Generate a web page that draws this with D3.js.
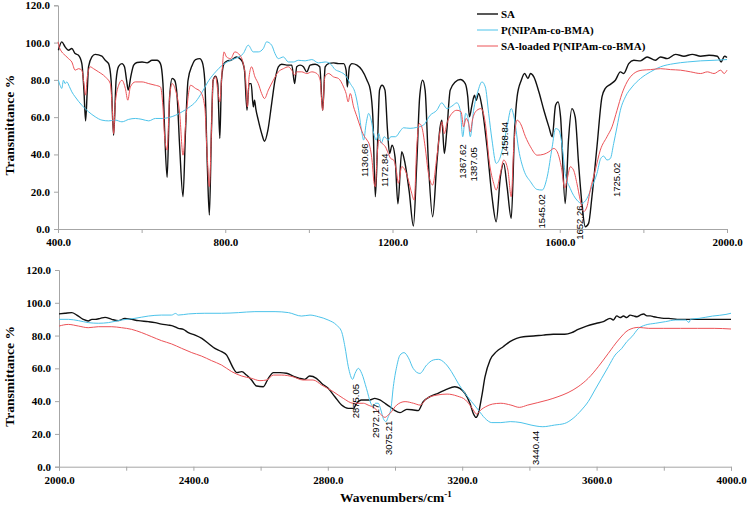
<!DOCTYPE html>
<html><head><meta charset="utf-8">
<script src="https://cdn.jsdelivr.net/npm/d3@7"></script>
<style>
html,body{margin:0;padding:0;background:#fff;}
svg{display:block;}
</style></head>
<body>
<svg id="chart" width="748" height="509"></svg>
<script>
// ---------- data ----------
const seriesNames = ["SA", "P(NIPAm-co-BMA)", "SA-loaded P(NIPAm-co-BMA)"];
const seriesColors = ["#111111", "#4cc3ea", "#ec5257"];

const topXTicks = [400, 800, 1200, 1600, 2000];
const bottomXTicks = [2000, 2400, 2800, 3200, 3600, 4000];
const yTicks = [0, 20, 40, 60, 80, 100, 120];

// top panel (400-2000 cm-1): [wavenumber, transmittance %]
const saTop = [[401,95.9],[409,100.4],[417,97.7],[425,95.9],[433,96.8],[441,94.1],[449,93.2],[457,88.7],[462,74.5],[466,58.0],[470,74.5],[473,87],[481,92.3],[489,93.7],[505,92.7],[513,90.5],[521,88.7],[527,79.8],[533,50.3],[539,79.8],[545,87.3],[553,88.7],[559,87],[564,79.8],[568,74.5],[574,81.6],[581,87.9],[589,89.3],[601,89.6],[613,89.1],[625,90.5],[637,90.5],[645,88.7],[651,78],[655,53],[661,27.7],[667,70.9],[673,80.7],[679,79.8],[685,70.9],[691,44.1],[699,17.3],[705,53],[711,79.8],[721,87.9],[729,90.9],[739,91.4],[745,89.6],[751,79.8],[757,35.2],[762,7.5],[767,53],[771,79.8],[777,82],[782,78],[787,48.6],[791,79.8],[797,88.7],[805,90.2],[813,90.5],[827,92.3],[839,90.5],[846,85.2],[852,63.7],[857,78],[862,78],[867,65.5],[870,69.1],[873,64.6],[879,58.4],[887,51.3],[894,47.1],[902,53],[911,67.3],[919,79.8],[927,87],[935,88.4],[947,87.9],[959,87.9],[966,78],[971,87],[979,87.9],[987,87],[995,84.3],[1003,87.9],[1015,88.4],[1026,87],[1033,63.7],[1039,87],[1047,88.7],[1059,89.1],[1071,88.7],[1083,88.7],[1089,85.2],[1092,76.2],[1097,87],[1103,88.7],[1115,87.9],[1127,85.2],[1139,79.8],[1147,74.5],[1153,60],[1159,17.3],[1164,44],[1169,74.5],[1175,77.1],[1182,74.5],[1188,53],[1193,40.5],[1199,45],[1206,38.7],[1213,13.5],[1222,41.4],[1230,35.2],[1240,20],[1250,1.6],[1258,35.2],[1265,70.9],[1272,79.8],[1278,74.5],[1286,35.2],[1296,6.6],[1306,35.2],[1314,54.8],[1318,58.4],[1324,40.5],[1330,53],[1338,74.5],[1350,78.9],[1362,80.2],[1374,78],[1380,70.9],[1384,60.2],[1390,66.4],[1396,71.8],[1400,69.1],[1406,72.7],[1414,65.5],[1426,44.1],[1438,17.3],[1448,3.9],[1458,28],[1466,35.2],[1474,22.7],[1484,5.7],[1492,53],[1498,70.9],[1508,79.8],[1516,83.4],[1524,80.7],[1530,83.4],[1538,81.6],[1550,73.6],[1562,63.7],[1574,54.8],[1582,49.5],[1590,66.4],[1596,68.2],[1602,60],[1613,13.7],[1621,48],[1629,64.6],[1637,60],[1645,35.2],[1653,13.7],[1661,1.2],[1669,3],[1677,17.3],[1689,44.1],[1701,70.9],[1709,75.4],[1721,77.6],[1733,79.8],[1745,84.3],[1753,83.4],[1765,88.7],[1777,90.5],[1793,90.2],[1809,92.3],[1829,90.5],[1841,92.3],[1857,91.4],[1877,93.7],[1897,92.7],[1917,93.7],[1937,92.7],[1957,93.2],[1977,92.7],[1986,89.6],[1994,92.7],[2000,92]];

const pTop = [[401,79.8],[405,77],[409,75.4],[413,79.8],[417,78],[421,78.9],[427,76.5],[433,73.6],[441,70.9],[457,66.4],[473,62.9],[489,60.2],[505,58.4],[521,58],[537,58.4],[553,57.5],[569,58.8],[585,59.3],[601,58.8],[617,58],[633,59.3],[649,59.3],[665,59.8],[681,61],[697,62.9],[713,65.2],[729,68.2],[745,73.6],[761,79.8],[777,84.3],[793,87.9],[813,90.5],[823,91.4],[843,94.1],[855,98.6],[867,95],[879,95],[891,96.8],[899,100.4],[911,98.6],[919,94.1],[927,91.4],[939,92.3],[951,89.6],[963,89.6],[975,90.5],[991,90.2],[1007,90.9],[1023,89.1],[1039,89.6],[1051,88.7],[1063,85.5],[1075,84.3],[1087,82.5],[1099,78],[1111,72.7],[1119,63.7],[1127,51.3],[1131,47.7],[1137,56.6],[1143,62],[1149,58.4],[1155,51.3],[1161,47.7],[1167,51.3],[1173,46],[1180,49.5],[1190,47.7],[1196,49.5],[1207,49.5],[1220,53],[1226,54.3],[1242,54],[1258,54.5],[1274,55.7],[1290,61],[1306,63.7],[1318,67.7],[1330,64.6],[1342,65.9],[1354,67.7],[1362,63.7],[1368,49.5],[1375,62],[1380,60.2],[1386,49.5],[1394,63.7],[1404,73.6],[1414,78.9],[1422,76.2],[1430,62],[1438,47.7],[1448,35.2],[1458,38.7],[1466,45.9],[1474,54.8],[1484,64.6],[1492,58.4],[1502,42.3],[1514,31.6],[1530,25.4],[1546,21.2],[1558,20.9],[1570,28],[1582,44.1],[1590,53.9],[1598,53],[1606,44.1],[1613,29.8],[1625,21.8],[1641,15.5],[1653,13.7],[1665,16.4],[1677,22.7],[1689,29.8],[1698,37.8],[1705,39.1],[1713,37],[1721,37.8],[1729,45.9],[1737,54.8],[1745,63.7],[1757,70.9],[1773,76.2],[1793,80.7],[1817,84.3],[1841,87],[1873,88.7],[1905,89.6],[1937,90.2],[1969,90.5],[2000,90.9]];

const loadedTop = [[400,100.4],[403,97.7],[409,95],[417,93.2],[425,91.4],[433,89.6],[441,85.2],[449,86],[457,85.2],[462,78],[466,71.8],[470,81.6],[477,87],[485,86],[497,84.3],[513,81.6],[525,78],[530,63.7],[533,51.2],[537,67.3],[545,77.1],[553,79.8],[561,75.4],[567,69.1],[573,76.2],[585,78.9],[601,78.9],[617,78],[633,77.1],[645,76.2],[651,65.5],[655,49.5],[661,42.3],[667,70.9],[673,78],[681,74.5],[691,62],[699,39.6],[707,62],[717,77.1],[729,75.4],[741,73.6],[751,65.5],[757,38.7],[762,22.7],[767,53],[771,79.8],[777,81.6],[782,74.5],[787,68.2],[791,79.8],[797,95],[803,92.3],[813,91.4],[823,95],[835,93.2],[843,88.7],[849,79.8],[853,65.5],[857,81.6],[863,87],[871,81.6],[879,78],[887,72.7],[894,70],[903,74.5],[915,79.8],[927,84.3],[939,86],[951,87],[959,85.2],[966,82.5],[971,84.3],[983,84.3],[995,83.4],[1007,84.3],[1019,83.4],[1027,79.8],[1033,63.7],[1038,81.6],[1047,83.4],[1059,81.6],[1071,80.7],[1083,76.2],[1089,72.7],[1094,68.2],[1099,72.7],[1107,65.5],[1115,60.2],[1123,54.8],[1131,50.3],[1139,47.7],[1145,45],[1151,37],[1156,24.5],[1159,22.7],[1163,38.7],[1167,47.7],[1175,45.9],[1183,44.1],[1190,40.5],[1195,38],[1203,36.9],[1209,31.6],[1214,24.5],[1222,33.4],[1230,31.6],[1238,26.2],[1246,19.1],[1252,15.5],[1258,44.1],[1264,56.6],[1270,54.8],[1278,44.1],[1286,29.8],[1296,23.6],[1306,38.7],[1314,53],[1318,57.5],[1324,51.2],[1330,56.6],[1342,62],[1354,63.7],[1364,62.9],[1370,54.8],[1376,59.3],[1382,56.6],[1386,52.1],[1392,59.3],[1402,63.7],[1412,64.6],[1422,56.6],[1432,35.2],[1442,24.5],[1448,20.9],[1458,29.8],[1466,37],[1476,31.6],[1484,17.3],[1490,44.1],[1498,58.4],[1506,56.6],[1518,49.5],[1530,44.1],[1546,39.6],[1562,40.1],[1574,41.4],[1586,43.2],[1594,41.4],[1604,33],[1612,22],[1619,28],[1625,33.4],[1633,31.6],[1641,24.5],[1649,15.5],[1657,9.3],[1665,11.9],[1673,20.9],[1685,31.6],[1697,42.3],[1713,49.5],[1725,54.8],[1737,63.7],[1749,72.7],[1761,78.9],[1777,83.4],[1797,85.2],[1817,85.5],[1841,86],[1865,85.5],[1889,85.2],[1913,84.3],[1937,83.4],[1953,84.3],[1969,83.4],[1985,85.2],[1993,83.4],[2000,85.2]];

// bottom panel (2000-4000 cm-1)
const saBottom = [[2000,93.2],[2018,93.6],[2038,94],[2053,92.5],[2072,89.9],[2087,88.9],[2098,89.9],[2108,89.9],[2123,90.5],[2137,91.1],[2157,89.9],[2177,89.1],[2196,90.5],[2216,89.9],[2236,89.1],[2266,88.5],[2286,87.9],[2305,87],[2325,86.4],[2340,85.8],[2355,84.4],[2370,83.8],[2385,81.8],[2405,80.3],[2425,78.3],[2444,75.3],[2464,72.2],[2484,70.2],[2499,68.1],[2509,64.1],[2519,60],[2529,57.4],[2544,58],[2558,55.9],[2573,52.9],[2588,49.2],[2608,48.8],[2623,53.9],[2638,57.4],[2658,57.4],[2677,57],[2697,55.3],[2716,53.9],[2731,53.3],[2746,55.3],[2766,53.9],[2782,50.8],[2801,47.8],[2821,42.7],[2841,37.6],[2861,35.6],[2876,35.6],[2886,38.7],[2900,40.7],[2925,40.7],[2940,41.7],[2955,40.7],[2970,38.7],[2985,36.6],[3000,34.2],[3015,33],[3035,35],[3055,34.6],[3069,34.2],[3084,39.7],[3104,42.7],[3128,44.8],[3153,47.2],[3178,48.8],[3193,47.8],[3208,44.8],[3223,38.7],[3233,32.5],[3241,30.1],[3248,32.5],[3258,42.7],[3268,54.9],[3283,65.1],[3302,70.2],[3322,73.2],[3342,76.3],[3362,78.3],[3382,79.3],[3412,79.7],[3441,80.3],[3471,80.8],[3505,80.8],[3526,81.8],[3545,83.8],[3570,85.8],[3600,87.5],[3620,88.5],[3640,90.5],[3650,89.5],[3660,92],[3670,91],[3680,91.9],[3690,91],[3700,92.5],[3710,92],[3720,91.5],[3730,92.5],[3740,93.2],[3750,92],[3760,92],[3770,91.5],[3780,91.1],[3800,90.5],[3815,90.5],[3840,89.9],[3870,89.9],[3900,89.9],[3945,89.9],[4000,89.9]];

const pBottom = [[2000,89.9],[2028,89.9],[2058,89.1],[2087,87.9],[2117,87.5],[2147,87.9],[2186,89.5],[2226,90.5],[2266,91.9],[2305,92.5],[2335,92.5],[2347,93.5],[2355,92.5],[2385,93.2],[2434,93.6],[2484,93.6],[2534,94],[2583,94.6],[2643,94.6],[2683,94],[2722,91.9],[2747,92.5],[2772,91.5],[2801,89.5],[2826,86.4],[2841,82.4],[2851,73.2],[2861,61],[2874,53.3],[2881,56.9],[2891,60],[2901,56.9],[2915,47.8],[2928,38.7],[2935,36.6],[2942,38.7],[2950,38.7],[2958,34.6],[2965,29.5],[2973,27.5],[2980,30.5],[2988,35.6],[2995,48.8],[3005,61],[3015,68.1],[3027,69.6],[3040,66.4],[3054,60],[3074,56.9],[3094,62],[3114,65.1],[3129,65.5],[3149,63.1],[3168,58],[3188,50.9],[3208,44.8],[3228,39.7],[3248,34.6],[3268,29.5],[3288,26.9],[3315,26.9],[3343,27.5],[3375,26.9],[3405,25.4],[3440,24.4],[3475,25.4],[3505,26.4],[3530,29.5],[3555,34.6],[3575,39.7],[3595,46.8],[3615,53.9],[3635,61],[3655,68.1],[3675,72.2],[3690,76.3],[3705,79.3],[3725,84.4],[3745,86.4],[3775,87.5],[3805,88.5],[3835,89.5],[3865,89.5],[3875,88],[3880,90],[3905,90.5],[3945,91.9],[3985,92.9],[4000,93.6]];

const loadedBottom = [[2000,85.8],[2028,86.8],[2058,85.8],[2087,84.8],[2117,85.4],[2157,85.4],[2186,84.8],[2216,83.8],[2246,81.8],[2276,79.3],[2305,76.9],[2335,74.9],[2365,72.2],[2395,69.6],[2424,67.5],[2454,64.7],[2484,62],[2514,58],[2544,55.3],[2573,53.9],[2598,52.5],[2618,52.9],[2638,55.9],[2663,55.9],[2696,54.9],[2726,52.9],[2756,52.9],[2782,49.8],[2816,45.8],[2846,41.7],[2876,38.7],[2906,38.7],[2920,37.6],[2940,35.6],[2955,32.5],[2970,30.1],[2980,31.6],[2985,32.5],[3005,37.6],[3030,39.7],[3055,38.7],[3075,37.6],[3095,41.7],[3125,43.7],[3155,44.3],[3185,43.1],[3210,40.7],[3230,35.6],[3243,32.1],[3255,34.6],[3270,36.6],[3290,38.2],[3315,38.7],[3345,37.6],[3370,36.2],[3395,37.6],[3425,39.1],[3455,40.7],[3485,42.7],[3515,45.2],[3545,48.8],[3575,53.9],[3605,61],[3635,69.2],[3665,77.3],[3695,83.4],[3725,85],[3755,84.4],[3800,84.4],[3850,84.4],[3900,84.4],[3950,84.4],[4000,84]];

// peak labels: [text, wavenumber at label, transmittance at label's lower end]
const topPeakLabels = [["1130.66",1134,27.9],["1172.84",1182,22.5],["1367.62",1367,27],["1387.05",1393,25.5],["1458.84",1469,39],["1545.02",1557,0.3],["1652.26",1648,-5.8],["1725.02",1736,17.1]];
const bottomPeakLabels = [["2875.05",2881,29.5],["2972.17",2942,17.5],["3075.21",2980,7.1],["3440.44",3417,1]];

// ---------- drawing ----------
const svg = d3.select("#chart");
const serif = "'Liberation Serif','Times New Roman',serif";
const sans = "'Liberation Sans',Arial,sans-serif";
const widths = [1.4, 1, 1];

function panel(cfg) {
  const x = d3.scaleLinear().domain(cfg.xDomain).range([cfg.left, cfg.right]);
  const y = d3.scaleLinear().domain([0, 120]).range([cfg.bottom, cfg.top]);
  const g = svg.append("g");

  const xAxis = d3.axisBottom(x)
    .tickValues(d3.range(cfg.xDomain[0], cfg.xDomain[1] + 1, 200))
    .tickSize(4).tickPadding(cfg.xPad)
    .tickFormat(d => cfg.xTicks.includes(d) ? d3.format(".1f")(d) : "");
  const ax = g.append("g").attr("transform", `translate(0,${cfg.bottom})`).call(xAxis);

  const yAxis = d3.axisLeft(y).tickValues(yTicks).tickSize(4).tickPadding(4)
    .tickFormat(d3.format(".1f"));
  const ay = g.append("g").attr("transform", `translate(${cfg.left},0)`).call(yAxis);

  [ax, ay].forEach(a => {
    a.select(".domain").attr("stroke", "#a6a6a6").attr("stroke-width", 1);
    a.selectAll(".tick line").attr("stroke", "#a6a6a6");
    a.selectAll("text").attr("font-family", serif).attr("font-weight", "bold")
      .attr("font-size", 11).attr("fill", "#000");
  });

  const line = d3.line().x(d => x(d[0])).y(d => y(d[1])).curve(d3.curveMonotoneX);
  cfg.series.forEach((s, i) => {
    g.append("path").datum(s).attr("d", line).attr("fill", "none")
      .attr("stroke", seriesColors[i]).attr("stroke-width", widths[i])
      .attr("stroke-linejoin", "round");
  });

  cfg.labels.forEach(l => {
    g.append("text")
      .attr("transform", `translate(${x(l[1])},${y(l[2])}) rotate(-90)`)
      .attr("text-anchor", "start").attr("dominant-baseline", "central")
      .attr("font-family", sans).attr("font-size", 9.5).attr("fill", "#000")
      .text(l[0]);
  });

  g.append("text")
    .attr("transform", `translate(${cfg.titleX},${(cfg.top + cfg.bottom) / 2 + 8}) rotate(-90)`)
    .attr("text-anchor", "middle").attr("dominant-baseline", "central")
    .attr("font-family", serif).attr("font-weight", "bold").attr("font-size", 13.5)
    .text("Transmittance %");
}

panel({ xDomain: [400, 2000], xTicks: topXTicks, left: 58, right: 727, top: 5.3, bottom: 229,
  xPad: 5, series: [saTop, pTop, loadedTop], labels: topPeakLabels, titleX: 9 });
panel({ xDomain: [2000, 4000], xTicks: bottomXTicks, left: 59, right: 731, top: 270, bottom: 466.7,
  xPad: 6, series: [saBottom, pBottom, loadedBottom], labels: bottomPeakLabels, titleX: 9 });

// legend
const leg = svg.append("g");
seriesNames.forEach((n, i) => {
  const yy = 14 + i * 16;
  leg.append("line").attr("x1", 477).attr("x2", 498).attr("y1", yy).attr("y2", yy)
    .attr("stroke", seriesColors[i]).attr("stroke-width", widths[i]);
  leg.append("text").attr("x", 501).attr("y", yy).attr("dominant-baseline", "central")
    .attr("font-family", serif).attr("font-weight", "bold").attr("font-size", 11)
    .text(n);
});

// x axis title
const xt = svg.append("text").attr("x", 340).attr("y", 502)
  .attr("font-family", serif).attr("font-weight", "bold").attr("font-size", 13.5);
xt.append("tspan").text("Wavenumbers/cm");
xt.append("tspan").attr("dy", -5).attr("font-size", 9).text("-1");
</script>
</body></html>
